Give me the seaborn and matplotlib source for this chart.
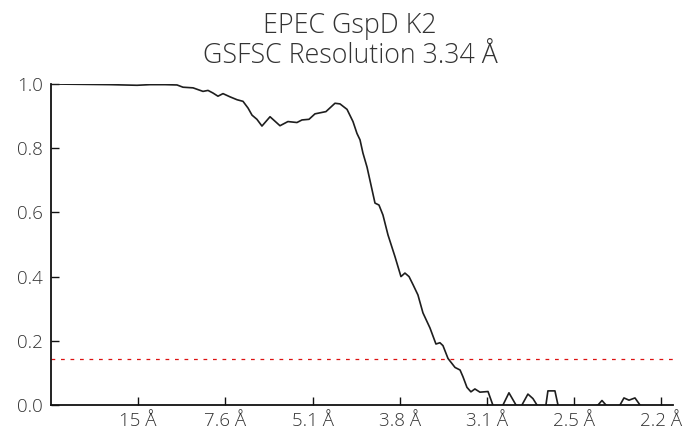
import matplotlib
matplotlib.use("Agg")
import matplotlib.pyplot as plt
import seaborn as sns
import pandas as pd

# Spatial frequency (1/Å) and FSC values
freq = [0.0000, 0.0219, 0.0445, 0.0649, 0.0747, 0.0860, 0.0951, 0.0996, 0.1072, 0.1147,
        0.1185, 0.1222, 0.1260, 0.1298, 0.1351, 0.1404, 0.1449, 0.1487, 0.1517, 0.1554,
        0.1592, 0.1653, 0.1728, 0.1788, 0.1856, 0.1894, 0.1947, 0.1992, 0.2075, 0.2143,
        0.2181, 0.2234, 0.2279, 0.2309, 0.2332, 0.2354, 0.2385, 0.2407, 0.2445, 0.2475,
        0.2505, 0.2543, 0.2596, 0.2641, 0.2671, 0.2702, 0.2732, 0.2769, 0.2807, 0.2860,
        0.2905, 0.2935, 0.2958, 0.2996, 0.3049, 0.3087, 0.3109, 0.3139, 0.3169, 0.3199,
        0.3237, 0.3298, 0.3343, 0.3381, 0.3411, 0.3456, 0.3509, 0.3532, 0.3554, 0.3599,
        0.3637, 0.3675, 0.3713, 0.3735, 0.3750, 0.3803, 0.3826, 0.3856, 0.3916, 0.3992,
        0.4067, 0.4128, 0.4158, 0.4188, 0.4233, 0.4294, 0.4324, 0.4362, 0.4407, 0.4445,
        0.4490, 0.4565, 0.4633, 0.4694]
fsc = [1.000, 0.999, 0.998, 0.996, 0.998, 0.998, 0.997, 0.990, 0.988, 0.977,
       0.980, 0.972, 0.962, 0.970, 0.960, 0.951, 0.946, 0.925, 0.903, 0.890,
       0.869, 0.898, 0.870, 0.883, 0.880, 0.888, 0.890, 0.907, 0.914, 0.940,
       0.938, 0.921, 0.883, 0.846, 0.826, 0.785, 0.741, 0.700, 0.629, 0.623,
       0.592, 0.530, 0.462, 0.400, 0.411, 0.400, 0.375, 0.343, 0.287, 0.240,
       0.190, 0.194, 0.185, 0.145, 0.117, 0.109, 0.088, 0.055, 0.041, 0.050,
       0.040, 0.042, -0.010, -0.020, 0.000, 0.038, 0.000, -0.010, 0.000, 0.034,
       0.020, -0.005, -0.020, 0.000, 0.044, 0.044, 0.000, -0.020, -0.030, -0.030,
       -0.010, 0.000, 0.014, 0.000, -0.020, 0.000, 0.022, 0.015, 0.022, 0.000,
       -0.020, -0.010, -0.030, -0.020]

threshold = 0.143
tick_freqs = [0.0658, 0.1316, 0.1974, 0.2632, 0.3290, 0.3948, 0.4606]
tick_labels = ["15 Å", "7.6 Å", "5.1 Å", "3.8 Å", "3.1 Å", "2.5 Å", "2.2 Å"]
y_ticks = [0.0, 0.2, 0.4, 0.6, 0.8, 1.0]
title_lines = ["EPEC GspD K2", "GSFSC Resolution 3.34 Å"]

sns.set_style("ticks")
plt.rcParams["font.family"] = ["Open Sans", "DejaVu Sans"]

fig = plt.figure(figsize=(7, 4.37), dpi=100)
ax = fig.add_axes([51 / 700, 1 - 405 / 437, (673 - 51) / 700, (405 - 84) / 437])

df = pd.DataFrame({"freq": freq, "fsc": fsc})
sns.lineplot(data=df, x="freq", y="fsc", ax=ax, color="#1e1e1e", linewidth=1.2,
             sort=False, estimator=None)
ax.axhline(threshold, color="#dd1111", linewidth=0.9, linestyle=(0, (3.0, 4.6)))

ax.set_xlim(0, 0.4694)
ax.set_ylim(0, 1.0)
ax.set_xticks(tick_freqs)
ax.set_xticklabels(tick_labels)
ax.set_yticks(y_ticks)
ax.set_yticklabels([f"{v:.1f}" for v in y_ticks])
ax.set_xlabel("")
ax.set_ylabel("")

for s in ["top", "right"]:
    ax.spines[s].set_visible(False)
for s in ["left", "bottom"]:
    ax.spines[s].set_linewidth(1.3)
    ax.spines[s].set_color("#111111")

ax.tick_params(axis="both", direction="in", length=6, width=1.0, color="#111111",
               labelsize=13.5, labelcolor="#333333")
ax.tick_params(axis="y", pad=6)
ax.tick_params(axis="x", pad=5)
for lab in ax.get_xticklabels() + ax.get_yticklabels():
    lab.set_fontweight(300)

fig.text(0.5, 1 - 33 / 437, title_lines[0], ha="center", va="baseline",
         fontsize=19.3, fontweight=300, color="#333333")
fig.text(0.5, 1 - 63 / 437, title_lines[1], ha="center", va="baseline",
         fontsize=19.3, fontweight=300, color="#333333")

fig.savefig("out.png", dpi=100)
